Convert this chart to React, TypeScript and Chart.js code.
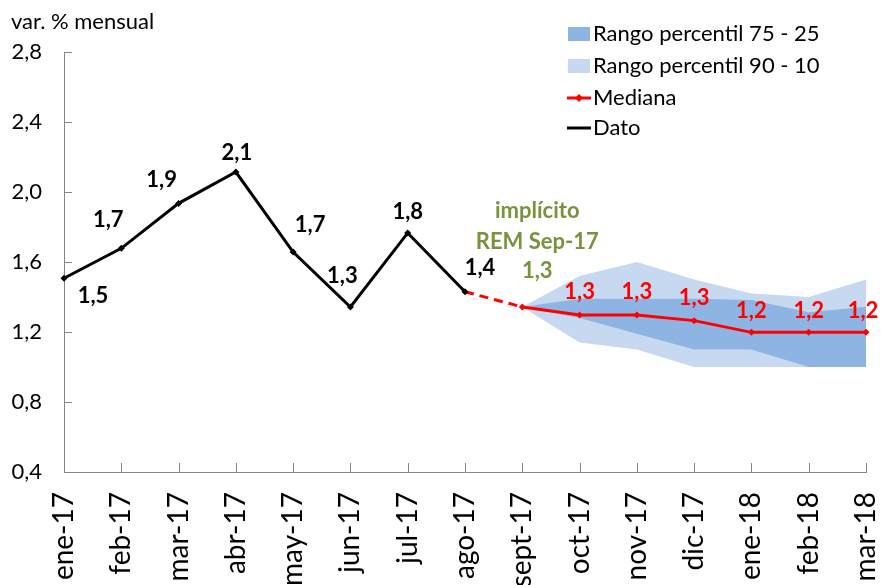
import { useEffect, useRef } from "react";
import { Chart, registerables } from "chart.js";

Chart.register(...registerables);

const categories = [
  "ene-17", "feb-17", "mar-17", "abr-17", "may-17", "jun-17", "jul-17", "ago-17",
  "sept-17", "oct-17", "nov-17", "dic-17", "ene-18", "feb-18", "mar-18",
];

const dato = [1.507, 1.678, 1.935, 2.114, 1.657, 1.343, 1.766, 1.43, null, null, null, null, null, null, null];
const implicito = [null, null, null, null, null, null, null, 1.43, 1.343, null, null, null, null, null, null];
const mediana = [null, null, null, null, null, null, null, null, 1.343, 1.297, 1.297, 1.265, 1.198, 1.198, 1.198];
const p75 = [null, null, null, null, null, null, null, null, 1.343, 1.39, 1.39, 1.39, 1.383, 1.313, 1.345];
const p25 = [null, null, null, null, null, null, null, null, 1.343, 1.28, 1.19, 1.1, 1.1, 1.0, 1.0];
const p90 = [null, null, null, null, null, null, null, null, 1.343, 1.52, 1.6, 1.5, 1.42, 1.4, 1.5];
const p10 = [null, null, null, null, null, null, null, null, 1.343, 1.14, 1.1, 1.0, 1.0, 1.0, 1.0];

const yMin = 0.4;
const yMax = 2.8;
const yStep = 0.4;

const titleText = "var. % mensual";
const legendLabels = ["Rango percentil 75 - 25", "Rango percentil 90 - 10", "Mediana", "Dato"];
const implicitoText = ["implícito", "REM Sep-17"];

// label offsets (styles, in px relative to each point)
const datoLabelDX = [29, -13, -17, 1, 17, -8, 0, 15];
const datoLabelDY = [18, -28, -23, -19, -27, -31, -21, -24];
const medLabelDX = [0, 0, 0, 0, 0, 0, 0, 0, 0, 0, 0, 0, 0, 0, -3];
const medLabelDY = [0, 0, 0, 0, 0, 0, 0, 0, 0, -23, -23, -23, -21, -21, -21];

const FONT = "Lato";
const C_DARK = "#8EB4E3";
const C_LIGHT = "#C6D9F1";
const C_RED = "#FF0000";
const C_GREEN = "#77933C";
const C_AXIS = "#868686";

const fmt = (v: number) => v.toFixed(1).replace(".", ",");

const decorPlugin = {
  id: "decor",
  afterDatasetsDraw(chart: any) {
    const ctx = chart.ctx as CanvasRenderingContext2D;
    const x = chart.scales.x;
    const y = chart.scales.y;
    const area = chart.chartArea;
    ctx.save();
    // inner ticks
    ctx.strokeStyle = C_AXIS;
    ctx.lineWidth = 1;
    y.ticks.forEach((t: any) => {
      const py = Math.round(y.getPixelForValue(t.value)) + 0.5;
      ctx.beginPath();
      ctx.moveTo(area.left, py);
      ctx.lineTo(area.left + 8, py);
      ctx.stroke();
    });
    categories.forEach((_, i) => {
      const px = Math.round(x.getPixelForValue(i)) + 0.5;
      ctx.beginPath();
      ctx.moveTo(px, area.bottom);
      ctx.lineTo(px, area.bottom - 9);
      ctx.stroke();
    });

    ctx.textAlign = "center";
    ctx.textBaseline = "middle";
    // dato labels
    ctx.font = `bold 22px ${FONT}`;
    ctx.fillStyle = "#000";
    dato.forEach((v, i) => {
      if (v == null) return;
      const px = x.getPixelForValue(i);
      const py = y.getPixelForValue(v);
      ctx.fillText(fmt(v), px + datoLabelDX[i], py + datoLabelDY[i]);
    });
    // mediana labels (skip first point, shown as implicito)
    ctx.fillStyle = C_RED;
    mediana.forEach((v, i) => {
      if (v == null || i <= 8) return;
      const px = x.getPixelForValue(i);
      const py = y.getPixelForValue(v);
      ctx.fillText(fmt(v), px + medLabelDX[i], py + medLabelDY[i]);
    });
    // implicito labels
    ctx.fillStyle = C_GREEN;
    const iv = implicito[8] as number;
    const ix = x.getPixelForValue(8) + 15;
    const iy = y.getPixelForValue(iv);
    ctx.fillText(implicitoText[0], ix, iy - 96);
    ctx.fillText(implicitoText[1], ix, iy - 65);
    ctx.fillText(fmt(iv), ix, iy - 36);

    // title
    ctx.textAlign = "left";
    ctx.textBaseline = "alphabetic";
    ctx.font = `22px ${FONT}`;
    ctx.fillStyle = "#000";
    ctx.fillText(titleText, 11, 29);

    // legend
    const lx = 568;
    const rows = [34, 66, 98, 128];
    ctx.textBaseline = "middle";
    ctx.fillStyle = C_DARK;
    ctx.fillRect(lx, rows[0] - 7, 22, 14);
    ctx.fillStyle = C_LIGHT;
    ctx.fillRect(lx, rows[1] - 7, 22, 14);
    ctx.strokeStyle = C_RED;
    ctx.lineWidth = 3;
    ctx.beginPath();
    ctx.moveTo(lx - 1, rows[2]);
    ctx.lineTo(lx + 23, rows[2]);
    ctx.stroke();
    ctx.fillStyle = C_RED;
    ctx.beginPath();
    ctx.moveTo(lx + 11, rows[2] - 4);
    ctx.lineTo(lx + 15, rows[2]);
    ctx.lineTo(lx + 11, rows[2] + 4);
    ctx.lineTo(lx + 7, rows[2]);
    ctx.closePath();
    ctx.fill();
    ctx.strokeStyle = "#000";
    ctx.beginPath();
    ctx.moveTo(lx - 1, rows[3]);
    ctx.lineTo(lx + 23, rows[3]);
    ctx.stroke();
    ctx.fillStyle = "#000";
    ctx.font = `22px ${FONT}`;
    legendLabels.forEach((t, i) => ctx.fillText(t, lx + 25, rows[i]));
    ctx.restore();
  },
};

export default function App() {
  const ref = useRef<HTMLCanvasElement | null>(null);
  useEffect(() => {
    if (!ref.current) return;
    const chart = new Chart(ref.current, {
      type: "line",
      data: {
        labels: categories,
        datasets: [
          {
            label: legendLabels[3],
            data: dato,
            borderColor: "#000",
            backgroundColor: "#000",
            borderWidth: 3,
            pointStyle: "rectRot",
            pointRadius: 3.5,
            pointBorderWidth: 0,
            fill: false,
            spanGaps: false,
          },
          {
            label: legendLabels[2],
            data: mediana,
            borderColor: C_RED,
            backgroundColor: C_RED,
            borderWidth: 3,
            pointStyle: "rectRot",
            pointRadius: 3.5,
            pointBorderWidth: 0,
            fill: false,
          },
          {
            label: "implicito",
            data: implicito,
            borderColor: C_RED,
            borderWidth: 3,
            borderDash: [9, 6],
            pointRadius: 0,
            fill: false,
          },
          {
            label: legendLabels[0],
            data: p75,
            borderWidth: 0,
            borderColor: "rgba(0,0,0,0)",
            backgroundColor: C_DARK,
            pointRadius: 0,
            fill: "+1",
          },
          {
            label: "p25",
            data: p25,
            borderWidth: 0,
            borderColor: "rgba(0,0,0,0)",
            pointRadius: 0,
            fill: false,
          },
          {
            label: legendLabels[1],
            data: p90,
            borderWidth: 0,
            borderColor: "rgba(0,0,0,0)",
            backgroundColor: C_LIGHT,
            pointRadius: 0,
            fill: "+1",
          },
          {
            label: "p10",
            data: p10,
            borderWidth: 0,
            borderColor: "rgba(0,0,0,0)",
            pointRadius: 0,
            fill: false,
          },
        ],
      },
      options: {
        responsive: false,
        animation: false,
        layout: { padding: { left: 0, right: 16, top: 52, bottom: 0 } },
        plugins: {
          legend: { display: false },
          tooltip: { enabled: false },
          filler: { drawTime: "beforeDatasetsDraw" } as any,
        },
        scales: {
          x: {
            type: "category",
            offset: false,
            grid: { display: true, drawOnChartArea: false, drawTicks: false },
            border: { display: true, color: C_AXIS, width: 1 },
            ticks: {
              autoSkip: false,
              maxRotation: 90,
              minRotation: 90,
              padding: 20,
              color: "#000",
              font: { family: FONT, size: 28 },
            },
            afterFit: (s: any) => {
              s.height = 113;
              s.paddingLeft = 0;
              s.paddingRight = 0;
            },
          },
          y: {
            min: yMin,
            max: yMax,
            grid: { display: true, drawOnChartArea: false, drawTicks: false },
            border: { display: true, color: C_AXIS, width: 1 },
            ticks: {
              stepSize: yStep,
              padding: 22,
              color: "#000",
              font: { family: FONT, size: 22 },
              callback: (v: any) => fmt(Number(v)),
            },
            afterFit: (s: any) => {
              s.width = 64;
              s.paddingTop = 0;
              s.paddingBottom = 0;
            },
          },
        },
      },
      plugins: [decorPlugin],
    });
    return () => chart.destroy();
  }, []);
  return (
    <div style={{ position: "absolute", left: 0, top: 0, width: 882, height: 585 }}>
      <canvas ref={ref} width={882} height={585} style={{ display: "block" }} />
    </div>
  );
}
